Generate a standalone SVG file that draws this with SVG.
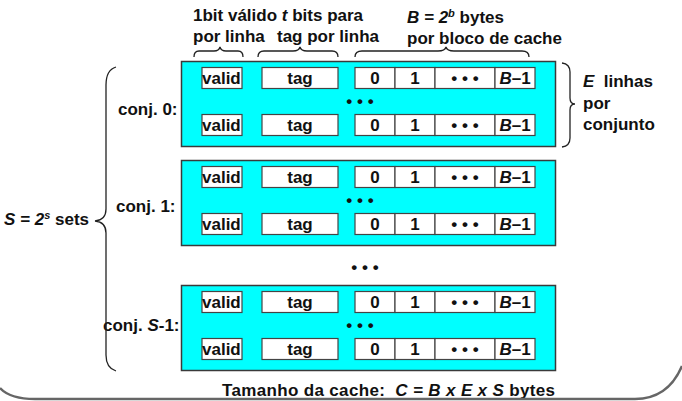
<svg xmlns="http://www.w3.org/2000/svg" width="682" height="401" viewBox="0 0 682 401">
<style>
text{font-family:"Liberation Sans",Arial,sans-serif;font-weight:bold;fill:#111;white-space:pre;}
.h{font-size:17px;}
.c{font-size:17px;text-anchor:middle;}
.v{font-size:17px;}
.d{font-size:17px;text-anchor:middle;}
.i{font-style:italic;}
.set{fill:#00FFFF;stroke:#3a3a3a;stroke-width:1.5;}
.cell{fill:#fff;stroke:#444;stroke-width:1.2;}
.br{fill:none;stroke:#222;stroke-width:1.3;}
</style>
<defs>
<g id="row">
<rect class="cell" x="202" y="0" width="40" height="21"/>
<text class="v" x="202" y="16.5">valid</text>
<rect class="cell" x="262" y="0" width="76" height="21"/>
<text class="c" x="300" y="16.5">tag</text>
<rect class="cell" x="355" y="0" width="40" height="21"/>
<text class="c" x="375" y="16.5">0</text>
<rect class="cell" x="395" y="0" width="40" height="21"/>
<text class="c" x="415" y="16.5">1</text>
<rect class="cell" x="435" y="0" width="60" height="21"/>
<text class="d" x="465" y="16">• • •</text>
<rect class="cell" x="495" y="0" width="40" height="21"/>
<text class="c" x="515" y="16.5"><tspan class="i">B</tspan>–1</text>
</g>
<g id="cacheset">
<rect class="set" x="181.5" y="0" width="374" height="85"/>
<use href="#row" y="6"/>
<text class="d" x="360" y="45">• • •</text>
<use href="#row" y="53"/>
</g>
</defs>

<g id="headers">
<text class="h" x="193" y="21">1bit válido <tspan class="i">t</tspan> bits para</text>
<text class="h" x="193" y="42">por linha</text>
<text class="h" x="277" y="42">tag por linha</text>
<text class="h" x="407" y="23"><tspan class="i">B = 2</tspan><tspan class="i" font-size="11" dy="-6">b</tspan><tspan dy="6"> bytes</tspan></text>
<text class="h" x="407" y="44">por bloco de cache</text>
</g>

<g id="set0">
<use href="#cacheset" y="61.5"/>
<text class="h" x="118" y="115">conj. 0:</text>
</g>
<g id="set1">
<use href="#cacheset" y="160.5"/>
<text class="h" x="116" y="212">conj. 1:</text>
</g>
<g id="between">
<text class="d" x="365" y="273">• • •</text>
</g>
<g id="setS1">
<use href="#cacheset" y="285.5"/>
<text class="h" x="103" y="331">conj. <tspan class="i">S</tspan>-1:</text>
</g>

<g id="setsLabel">
<text class="h" x="4" y="225"><tspan class="i">S = 2</tspan><tspan class="i" font-size="11" dy="-6">s</tspan><tspan dy="6"> sets</tspan></text>
</g>
<g id="linesLabel">
<text class="h" x="583" y="87"><tspan class="i">E</tspan>  linhas</text>
<text class="h" x="583" y="109">por</text>
<text class="h" x="583" y="130">conjunto</text>
</g>
<g id="footer">
<text class="h" x="222" y="396" textLength="333">Tamanho da cache:  <tspan class="i">C = B x E x S</tspan> bytes</text>
</g>

<g id="connectors">
<path class="br" d="M194,57 Q194,51 199,51 L214,51 Q219,51 220,47 Q221,51 226,51 L238,51 Q243,51 243,57"/>
<path class="br" d="M258,57 Q258,51 264,51 L293,51 Q299,51 300,47 Q301,51 307,51 L332,51 Q338,51 338,57"/>
<path class="br" d="M355,57 Q355,51 362,51 L438,51 Q445,51 446,47 Q447,51 454,51 L522,51 Q529,51 529,57"/>
<path class="br" d="M116,67 Q106,70 106,85 L106,209 Q106,220 95,221 Q106,222 106,233 L106,355 Q106,368 116,371"/>
<path class="br" d="M562,63 Q570,64 570,72 L570,98 Q570,104 575,104 Q570,104 570,110 L570,138 Q570,146 562,147"/>
<path fill="none" stroke="#666" stroke-width="2.5" d="M0,388 Q10,399 35,399 L635,399 Q668,399 682,366"/>
</g>
</svg>
